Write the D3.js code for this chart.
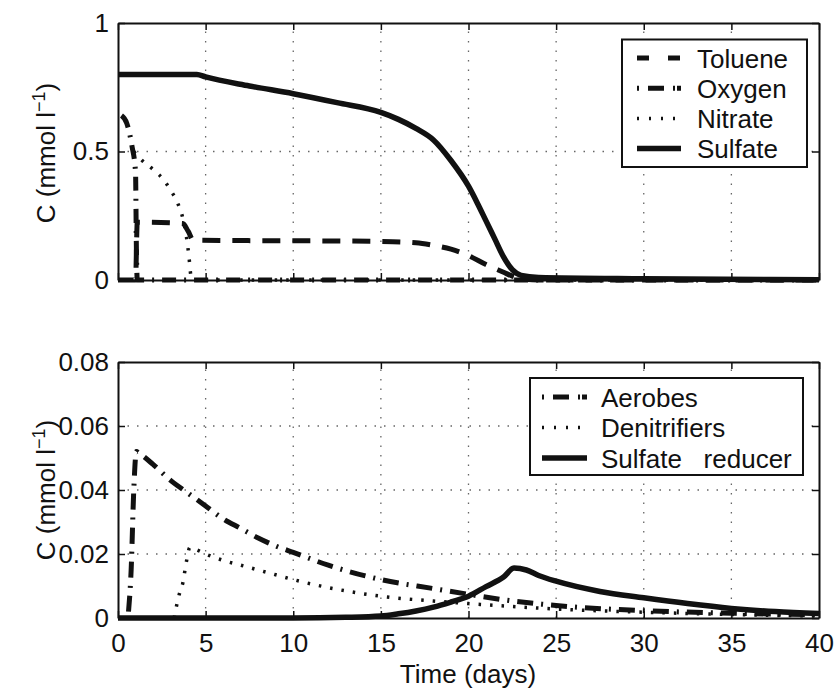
<!DOCTYPE html>
<html>
<head>
<meta charset="utf-8">
<script src="https://cdn.jsdelivr.net/npm/d3@7"></script>
<style>
  body { margin: 0; background: #fff; }
  text { font-family: "Liberation Sans", Arial, Helvetica, sans-serif; fill: #111; }
</style>
</head>
<body>
<svg id="chart" width="834" height="688"></svg>
<script>
// ---- data ----
var timeTicks = [0, 5, 10, 15, 20, 25, 30, 35, 40];
var topTicks = [0, 0.5, 1];
var bottomTicks = [0, 0.02, 0.04, 0.06, 0.08];

// upper panel: substrates (mmol/l)
var tolueneT = [0, 1.0, 1.1, 3.7, 4.0, 4.3, 8, 12, 15, 17, 18, 19, 20, 21, 22, 22.5, 23, 24, 40];
var tolueneC = [0, 0, 0.225, 0.22, 0.19, 0.155, 0.153, 0.152, 0.15, 0.145, 0.135, 0.12, 0.095, 0.06, 0.03, 0.015, 0.005, 0, 0];
var oxygenT = [0.2, 0.5, 0.8, 1.0, 1.05, 1.1, 40];
var oxygenC = [0.64, 0.61, 0.52, 0.42, 0.12, 0, 0];
var nitrateT = [0.9, 1.3, 2.0, 2.6, 3.0, 3.4, 3.7, 3.9, 4.05, 4.15, 4.2, 40];
var nitrateC = [0.5, 0.47, 0.43, 0.39, 0.35, 0.3, 0.24, 0.17, 0.09, 0.02, 0, 0];
var sulfateT = [0, 4.5, 5, 7.5, 10, 12.5, 15, 16, 17, 18, 19, 20, 20.5, 21, 21.5, 22, 22.5, 23, 24, 30, 40];
var sulfateC = [0.8, 0.8, 0.79, 0.755, 0.725, 0.69, 0.652, 0.625, 0.59, 0.545, 0.465, 0.365, 0.3, 0.23, 0.16, 0.09, 0.04, 0.018, 0.01, 0.005, 0.001];

// lower panel: biomass (mmol/l)
var aerobesT = [0.6, 0.75, 0.9, 1.05, 1.2, 2, 3, 4, 5, 6, 7, 8, 9, 10, 12, 15, 18, 20, 22, 25, 30, 35, 40];
var aerobesC = [0.002, 0.015, 0.04, 0.052, 0.0515, 0.048, 0.043, 0.039, 0.035, 0.031, 0.028, 0.025, 0.0225, 0.0205, 0.0165, 0.012, 0.0092, 0.0074, 0.0057, 0.0039, 0.0023, 0.0015, 0.001];
var denitrT = [3.2, 3.35, 3.5, 3.7, 3.9, 4.1, 4.4, 5, 6, 7, 8, 9, 10, 12, 15, 18, 20, 25, 30, 35, 40];
var denitrC = [0, 0.004, 0.0075, 0.011, 0.0175, 0.022, 0.0215, 0.02, 0.018, 0.0165, 0.015, 0.0135, 0.012, 0.0095, 0.0068, 0.0053, 0.0045, 0.0028, 0.0018, 0.0011, 0.0006];
var sulfRedT = [0, 10, 13, 15, 16, 17, 18, 19, 20, 21, 22, 22.6, 23.3, 24, 25, 27.5, 30, 32.5, 35, 37.5, 40];
var sulfRedC = [0, 0, 0.0002, 0.0006, 0.0013, 0.0022, 0.0034, 0.005, 0.0068, 0.0098, 0.0128, 0.0156, 0.015, 0.0133, 0.0115, 0.0083, 0.0063, 0.0045, 0.003, 0.002, 0.0014];

var svg = d3.select("#chart");
var FONT = 26;

var x = d3.scaleLinear().domain([0, 40]).range([118, 819]);

var panels = [
    {
        y: d3.scaleLinear().domain([0, 1]).range([280, 23]),
        yTicks: topTicks,
        xLabels: false,
        series: [
            { name: "Toluene", t: tolueneT, c: tolueneC, dash: "18,12", width: 5, legendDash: "12,19" },
            { name: "Oxygen", t: oxygenT, c: oxygenC, dash: "14,8,2,8", width: 5, legendDash: "2,9,16,9,2" },
            { name: "Nitrate", t: nitrateT, c: nitrateC, dash: "2.5,9", width: 3.5, legendDash: "2,10" },
            { name: "Sulfate", t: sulfateT, c: sulfateC, dash: null, width: 5.5, legendDash: null }
        ],
        legend: { x: 622, y: 39.5, w: 185, h: 127.5, lineX: 637, lineW: 44, textX: 697, firstY: 58, step: 30.2 },
        yLabelY: 153
    },
    {
        y: d3.scaleLinear().domain([0, 0.08]).range([618, 362]),
        yTicks: bottomTicks,
        xLabels: true,
        series: [
            { name: "Aerobes", t: aerobesT, c: aerobesC, dash: "16,8,2,8", width: 5, legendDash: "2,9,16,9,2" },
            { name: "Denitrifiers", t: denitrT, c: denitrC, dash: "2.5,9", width: 3.5, legendDash: "2,10" },
            { name: "Sulfate   reducer", t: sulfRedT, c: sulfRedC, dash: null, width: 5.5, legendDash: null }
        ],
        legend: { x: 530, y: 378, w: 273, h: 97, lineX: 542, lineW: 45, textX: 601, firstY: 397, step: 30.5 },
        yLabelY: 490
    }
];

/**
 * Draws one panel: grid, curves, frame with inward ticks, labels, legend
 */
function drawPanel(p) {
    var y = p.y;
    var x0 = x.range()[0], x1 = x.range()[1];
    var y0 = y.range()[0], y1 = y.range()[1];
    var g = svg.append("g");

    // dotted grid
    var grid = g.append("g").attr("class", "grid")
        .attr("stroke", "#666").attr("stroke-width", 1.3).attr("stroke-dasharray", "1.5,8");
    grid.selectAll("line.v").data(timeTicks.slice(1, -1)).enter().append("line")
        .attr("x1", function (d) { return x(d); }).attr("x2", function (d) { return x(d); })
        .attr("y1", y0).attr("y2", y1);
    grid.selectAll("line.h").data(p.yTicks.slice(1, -1)).enter().append("line")
        .attr("y1", function (d) { return y(d); }).attr("y2", function (d) { return y(d); })
        .attr("x1", x0).attr("x2", x1);

    // curves
    var line = d3.line()
        .x(function (d) { return x(d[0]); })
        .y(function (d) { return y(d[1]); })
        .curve(d3.curveMonotoneX);
    p.series.forEach(function (s) {
        var pts = s.t.map(function (t, i) { return [t, s.c[i]]; });
        g.append("path")
            .attr("d", line(pts))
            .attr("fill", "none")
            .attr("stroke", "#111")
            .attr("stroke-width", s.width)
            .attr("stroke-dasharray", s.dash)
            .attr("stroke-linejoin", "round");
    });

    // frame with inward ticks
    var fmt = function (d) { return d === 0 ? "0" : String(d); };
    var axes = [
        { a: d3.axisBottom(x).tickValues(timeTicks).tickFormat(p.xLabels ? fmt : "").tickPadding(16), t: "translate(0," + y0 + ")" },
        { a: d3.axisTop(x).tickValues(timeTicks).tickFormat(""), t: "translate(0," + y1 + ")" },
        { a: d3.axisLeft(y).tickValues(p.yTicks).tickFormat(fmt).tickPadding(9), t: "translate(" + x0 + ",0)" },
        { a: d3.axisRight(y).tickValues(p.yTicks).tickFormat(""), t: "translate(" + x1 + ",0)" }
    ];
    axes.forEach(function (ax) {
        var ag = g.append("g").attr("transform", ax.t)
            .call(ax.a.tickSizeInner(-7).tickSizeOuter(0));
        ag.select(".domain").attr("stroke", "#111").attr("stroke-width", 2);
        ag.selectAll(".tick line").attr("stroke", "#111").attr("stroke-width", 1.5);
        ag.selectAll(".tick text").attr("font-size", FONT)
            .attr("font-family", "Liberation Sans, Arial, sans-serif").attr("fill", "#111");
    });

    // y label
    var yl = g.append("text")
        .attr("transform", "translate(55," + p.yLabelY + ") rotate(-90)")
        .attr("text-anchor", "middle")
        .attr("font-size", FONT);
    yl.append("tspan").text("C (mmol l");
    yl.append("tspan").attr("dy", -10).attr("font-size", 18).text("\u22121");
    yl.append("tspan").attr("dy", 10).text(")");

    // legend
    var L = p.legend;
    var lg = g.append("g");
    lg.append("rect").attr("x", L.x).attr("y", L.y).attr("width", L.w).attr("height", L.h)
        .attr("fill", "#fff").attr("stroke", "#111").attr("stroke-width", 2);
    p.series.forEach(function (s, i) {
        var ly = L.firstY + i * L.step;
        lg.append("line")
            .attr("x1", L.lineX).attr("x2", L.lineX + L.lineW)
            .attr("y1", ly).attr("y2", ly)
            .attr("stroke", "#111").attr("stroke-width", s.width)
            .attr("stroke-dasharray", s.legendDash);
        lg.append("text")
            .attr("x", L.textX).attr("y", ly + 9.5)
            .attr("font-size", FONT)
            .style("white-space", "pre")
            .text(s.name);
    });
}

panels.forEach(drawPanel);

svg.append("text")
    .attr("x", 468).attr("y", 683)
    .attr("text-anchor", "middle")
    .attr("font-size", FONT)
    .text("Time (days)");
</script>
</body>
</html>
